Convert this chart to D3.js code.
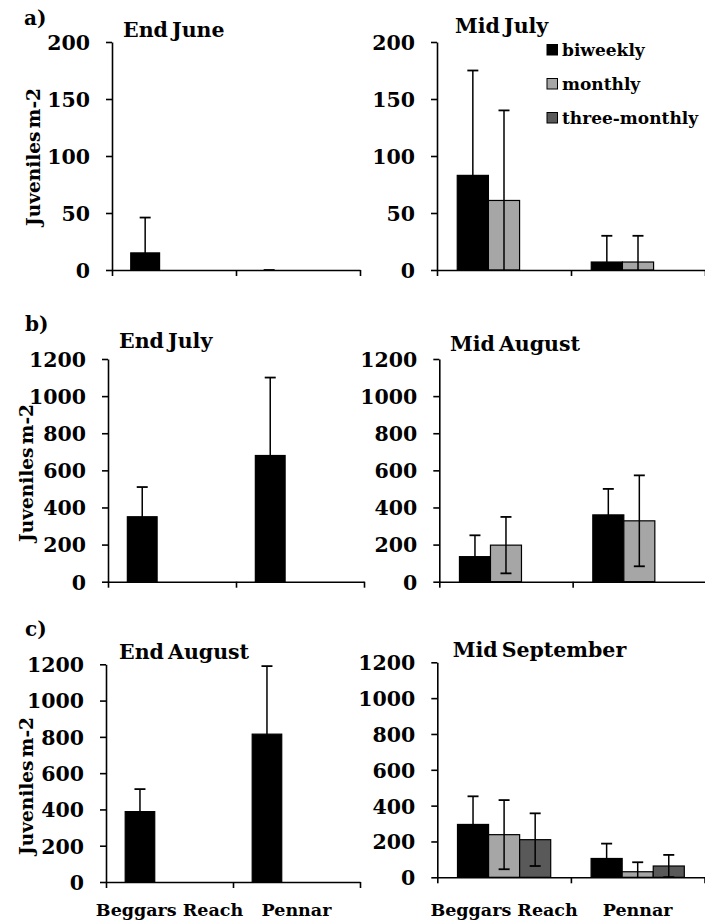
<!DOCTYPE html>
<html>
<head>
<meta charset="utf-8">
<script src="https://cdn.jsdelivr.net/npm/d3@7"></script>
<style>
  html, body { margin: 0; padding: 0; background: #fff; }
  svg text { font-family: "DejaVu Serif", serif; font-weight: bold; fill: #000; }
</style>
</head>
<body>
<svg id="chart" width="705" height="924"></svg>
<script>
// ---- data -------------------------------------------------------------
const categories = ["Beggars Reach", "Pennar"];
const seriesNames = ["biweekly", "monthly", "three-monthly"];
const panelTitles = ["End June", "Mid July", "End July", "Mid August", "End August", "Mid September"];
const rowLetters = ["a)", "b)", "c)"];
const yAxisLabel = "Juveniles m-2";
const ticksSmall = [0, 50, 100, 150, 200];
const ticksLarge = [0, 200, 400, 600, 800, 1000, 1200];

// mean juveniles m-2, one row per sampling interval (biweekly, monthly, three-monthly),
// columns follow the categories
const endJuneMean = [[15, 0]];
const endJuneErr  = [[31, 0]];
const midJulyMean = [[83, 7], [61, 7]];
const midJulyErr  = [[92, 23], [79, 23]];
const endJulyMean = [[350, 680]];
const endJulyErr  = [[160, 420]];
const midAugustMean = [[135, 360], [197, 328]];
const midAugustErr  = [[115, 140], [152, 245]];
const endAugustMean = [[388, 815]];
const endAugustErr  = [[124, 375]];
const midSeptemberMean = [[295, 105], [238, 31], [210, 63]];
const midSeptemberErr  = [[157, 83], [193, 53], [147, 62]];

const panelMeans = [endJuneMean, midJulyMean, endJulyMean, midAugustMean, endAugustMean, midSeptemberMean];
const panelErrs  = [endJuneErr, midJulyErr, endJulyErr, midAugustErr, endAugustErr, midSeptemberErr];

// ---- styling ----------------------------------------------------------
const seriesFill = ["#000000", "#a6a6a6", "#595959"];

// ---- panel geometry ---------------------------------------------------
const layout = [
  { x0: 112,   x2: 360,   yTop: 42,    yZero: 270,   ticks: ticksSmall, max: 200,
    tx: 123,   ty: 37,    lab: { x: 40, y: 157 } },
  { x0: 437,   x2: 705,   yTop: 42,    yZero: 270,   ticks: ticksSmall, max: 200,
    tx: 455,   ty: 33,    legend: true },
  { x0: 108,   x2: 364,   yTop: 359,   yZero: 581.7, ticks: ticksLarge, max: 1200,
    tx: 119,   ty: 348,   lab: { x: 33, y: 473 } },
  { x0: 439.3, x2: 706,   yTop: 359,   yZero: 581.7, ticks: ticksLarge, max: 1200,
    tx: 450,   ty: 351 },
  { x0: 106,   x2: 360,   yTop: 664.3, yZero: 882,   ticks: ticksLarge, max: 1200,
    tx: 119,   ty: 659,   lab: { x: 33, y: 786 }, cats: true },
  { x0: 437.3, x2: 704.5, yTop: 662.3, yZero: 877.3, ticks: ticksLarge, max: 1200,
    tx: 452.7, ty: 657,   cats: true }
];
const letterPos = [{ x: 24, y: 25 }, { x: 25, y: 331 }, { x: 25, y: 636 }];

const svg = d3.select("#chart");

rowLetters.forEach((t, i) => {
  svg.append("text").attr("x", letterPos[i].x).attr("y", letterPos[i].y)
    .style("font-size", "20px").text(t);
});

layout.forEach((p, pi) => {
  const g = svg.append("g");
  const means = panelMeans[pi];
  const errs = panelErrs[pi];

  const y = d3.scaleLinear().domain([0, p.max]).range([p.yZero, p.yTop]);
  const x0 = d3.scaleBand().domain(categories).range([p.x0, p.x2]).padding(0);
  const x1 = d3.scaleBand().domain(seriesNames).range([0, x0.bandwidth()])
    .paddingInner(0).paddingOuter(0.65);
  const xEdge = d3.scaleLinear().domain([0, categories.length]).range([p.x0, p.x2]);

  // bars
  means.forEach((row, si) => {
    row.forEach((v, ci) => {
      if (v == null) return;
      g.append("rect")
        .attr("x", x0(categories[ci]) + x1(seriesNames[si]))
        .attr("y", y(v))
        .attr("width", x1.bandwidth())
        .attr("height", y(0) - y(v))
        .attr("fill", seriesFill[si])
        .attr("stroke", "#000")
        .attr("stroke-width", 1.2);
    });
  });

  // error bars (clipped at the axis)
  means.forEach((row, si) => {
    row.forEach((v, ci) => {
      if (v == null) return;
      const e = errs[si][ci];
      const cx = x0(categories[ci]) + x1(seriesNames[si]) + x1.bandwidth() / 2;
      const hi = v + e;
      const lo = Math.max(0, v - e);
      g.append("line").attr("x1", cx).attr("x2", cx).attr("y1", y(hi)).attr("y2", y(lo))
        .attr("stroke", "#000").attr("stroke-width", 1.5);
      g.append("line").attr("x1", cx - 5.5).attr("x2", cx + 5.5).attr("y1", y(hi)).attr("y2", y(hi))
        .attr("stroke", "#000").attr("stroke-width", 1.8);
      if (v - e > 0) {
        g.append("line").attr("x1", cx - 5.5).attr("x2", cx + 5.5).attr("y1", y(lo)).attr("y2", y(lo))
          .attr("stroke", "#000").attr("stroke-width", 1.8);
      }
    });
  });

  // y axis
  const ya = g.append("g").attr("transform", `translate(${p.x0},0)`)
    .call(d3.axisLeft(y).tickValues(p.ticks).tickFormat(d3.format("d"))
      .tickSize(6).tickSizeOuter(0).tickPadding(16));
  ya.selectAll("text").style("font-size", "20.5px").attr("dy", "0.36em");

  // x axis with ticks on the category boundaries
  const xa = g.append("g").attr("transform", `translate(0,${p.yZero})`)
    .call(d3.axisBottom(xEdge).tickValues([0, 1, 2]).tickSize(6).tickSizeOuter(0).tickFormat(""));

  [ya, xa].forEach(a => {
    a.select(".domain").attr("stroke", "#000").attr("stroke-width", 1.6);
    a.selectAll(".tick line").attr("stroke", "#000").attr("stroke-width", 1.6);
  });

  if (p.cats) {
    categories.forEach(c => {
      g.append("text")
        .attr("x", x0(c) + x0.bandwidth() / 2)
        .attr("y", 916)
        .attr("text-anchor", "middle")
        .style("font-size", "17.5px")
        .text(c);
    });
  }

  // panel title
  g.append("text").attr("x", p.tx).attr("y", p.ty).style("font-size", "20.5px")
    .style("word-spacing", "-3px").text(panelTitles[pi]);

  // y axis title
  if (p.lab) {
    g.append("text")
      .attr("transform", `translate(${p.lab.x},${p.lab.y}) rotate(-90)`)
      .attr("text-anchor", "middle")
      .style("font-size", "18.5px")
      .style("word-spacing", "-3px")
      .text(yAxisLabel);
  }

  // legend
  if (p.legend) {
    const lg = g.append("g");
    seriesNames.forEach((s, i) => {
      const cy = 50 + i * 34;
      lg.append("rect").attr("x", 547).attr("y", cy - 5.5).attr("width", 10.5).attr("height", 10.5)
        .attr("fill", seriesFill[i]).attr("stroke", "#000").attr("stroke-width", 1);
      lg.append("text").attr("x", 562).attr("y", cy + 6).style("font-size", "17px").text(s);
    });
  }
});
</script>
</body>
</html>
